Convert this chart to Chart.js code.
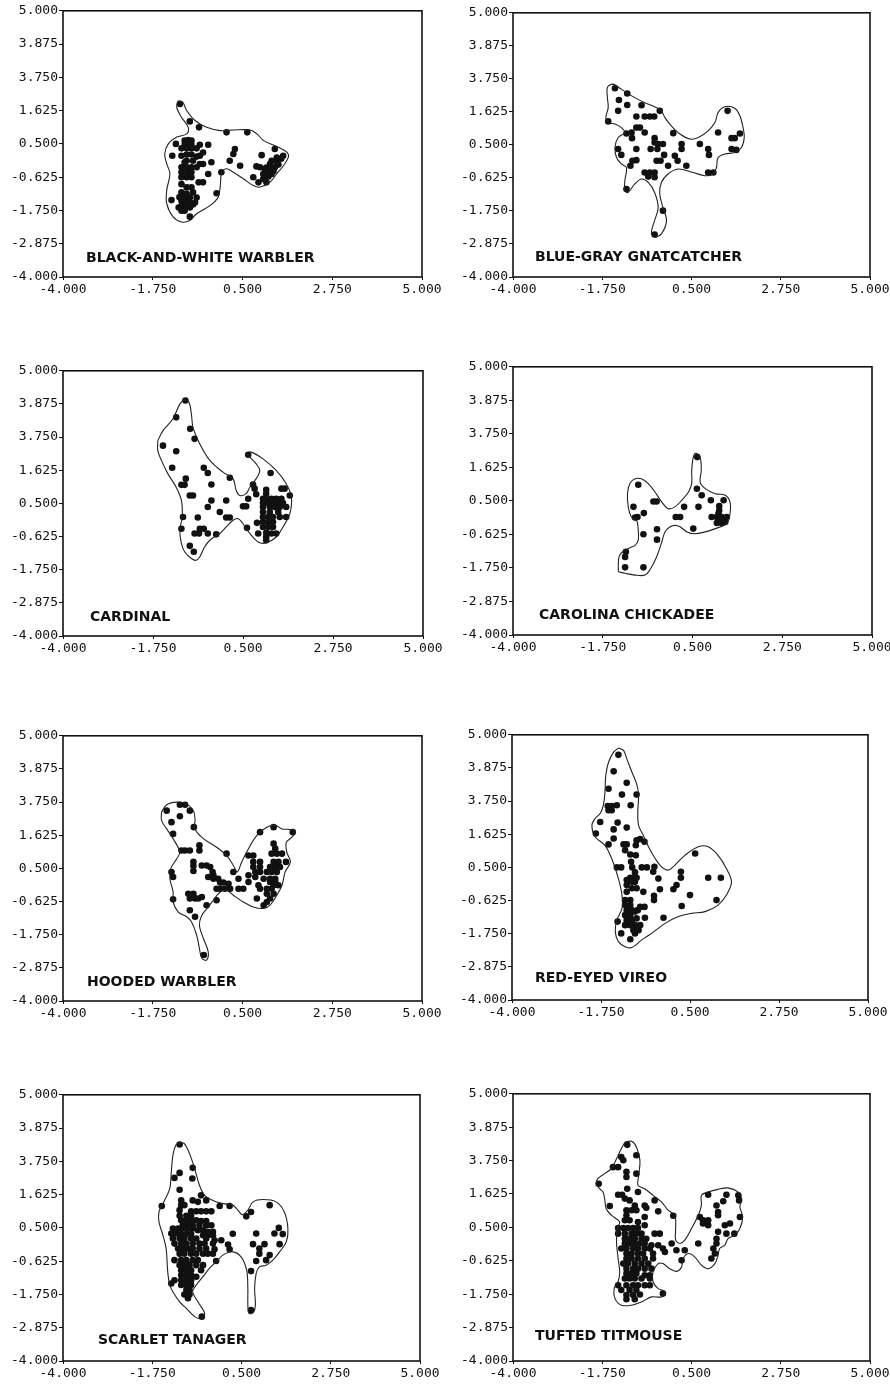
<!DOCTYPE html>
<html>
<head>
<meta charset="utf-8">
<script src="https://cdn.jsdelivr.net/npm/chart.js@4.4.1/dist/chart.umd.min.js"></script>
<style>
html, body { margin: 0; padding: 0; background: #fff; }
body { position: relative; width: 890px; height: 1384px; overflow: hidden; }
canvas { position: absolute; }
</style>
</head>
<body>
<script>
// axis ticks (the 2.75 tick really is printed as "3.750" in the source figure)
const xTickValues = [-4, -1.75, 0.5, 2.75, 5];
const xTickLabels = ['-4.000', '-1.750', '0.500', '2.750', '5.000'];
const yTickValues = [-4, -2.875, -1.75, -0.625, 0.5, 1.625, 2.75, 3.875, 5];
const yTickLabels = ['-4.000', '-2.875', '-1.750', '-0.625', '0.500', '1.625', '3.750', '3.875', '5.000'];

const speciesNames = ['BLACK-AND-WHITE WARBLER', 'BLUE-GRAY GNATCATCHER', 'CARDINAL', 'CAROLINA CHICKADEE',
    'HOODED WARBLER', 'RED-EYED VIREO', 'SCARLET TANAGER', 'TUFTED TITMOUSE'];

// ---- black-and-white warbler
const bawwDots = [[-1.07,1.85],[-0.82,1.26],[-0.59,1.06],[0.10,0.89],[0.62,0.89],[-1.17,0.50],[-0.95,0.61],[-0.86,0.63],[-0.78,0.61],[-0.90,0.47],[-0.78,0.47],[-0.57,0.47],[-0.36,0.47],[-1.26,0.10],[-1.03,0.10],[-0.90,0.14],[-0.78,0.14],[-0.65,0.07],[-0.57,0.10],[-0.49,0.21],[0.31,0.33],[0.27,0.16],[0.18,-0.07],[-0.49,-0.18],[-0.28,-0.12],[-0.90,-0.07],[-0.74,-0.07],[-0.57,-0.18],[-1.03,-0.29],[-0.90,-0.29],[-0.78,-0.29],[-0.65,-0.29],[0.44,-0.24],[-0.03,-0.46],[-1.03,-0.46],[-0.90,-0.46],[-0.78,-0.46],[-0.36,-0.52],[-0.60,-0.80],[-0.49,-0.80],[-0.90,-0.63],[-1.03,-0.86],[-0.90,-0.97],[-0.78,-0.97],[-0.74,-1.14],[-1.03,-1.14],[-0.90,-1.19],[-0.82,-1.31],[-0.65,-1.31],[-1.03,-1.42],[-0.90,-1.42],[-0.82,-1.48],[-0.69,-1.48],[-1.28,-1.40],[-1.03,-1.59],[-0.90,-1.59],[-0.74,-1.55],[-1.03,-1.76],[-0.95,-1.76],[-0.82,-1.96],[-0.15,-1.17],[0.98,0.12],[1.31,0.33],[1.36,0.04],[1.52,0.10],[1.23,-0.07],[1.36,-0.12],[1.19,-0.18],[0.85,-0.26],[0.94,-0.29],[1.06,-0.35],[1.19,-0.35],[1.31,-0.29],[1.02,-0.52],[1.10,-0.52],[1.23,-0.52],[0.77,-0.63],[1.02,-0.69],[1.10,-0.80],[0.90,-0.80],[-0.95,0.47],[-1.03,0.35],[-0.90,0.35],[-0.78,0.35],[-0.65,0.35],[-0.95,-0.12],[-1.03,-0.63],[-0.78,-0.63],[-0.95,-1.30],[-1.08,-1.30],[-0.95,-1.50],[-1.10,-1.65],[-0.82,-1.65],[1.15,-0.60],[1.28,-0.42],[1.40,-0.20],[1.47,0.00],[1.10,-0.30]];
const bawwOutline = [[-1.11,1.96],[-1.00,1.91],[-0.90,1.63],[-0.69,1.29],[-0.40,1.06],[-0.06,0.95],[0.27,0.97],[0.69,0.97],[0.86,0.84],[1.03,0.61],[1.36,0.41],[1.61,0.22],[1.65,0.05],[1.53,-0.23],[1.36,-0.51],[1.19,-0.79],[0.94,-0.96],[0.77,-0.91],[0.52,-0.68],[0.27,-0.46],[0.10,-0.34],[-0.02,-0.46],[-0.06,-0.96],[-0.11,-1.30],[-0.31,-1.58],[-0.65,-1.86],[-0.82,-2.09],[-1.03,-2.14],[-1.24,-1.97],[-1.40,-1.52],[-1.40,-1.07],[-1.32,-0.51],[-1.40,-0.17],[-1.45,0.16],[-1.36,0.50],[-1.15,0.73],[-0.90,0.84],[-0.86,1.06],[-1.03,1.40],[-1.15,1.74]];

// ---- blue-gray gnatcatcher
const bggnDots = [[-1.43,2.43],[-1.12,2.25],[-1.33,2.03],[-1.12,1.86],[-0.76,1.85],[-1.35,1.66],[-0.30,1.66],[-0.89,1.47],[-0.68,1.47],[-0.55,1.47],[-0.44,1.47],[-1.60,1.30],[-0.89,1.09],[-0.80,1.09],[-1.01,0.92],[-1.14,0.89],[-0.68,0.92],[-1.00,0.73],[-0.43,0.73],[0.04,0.90],[-0.43,0.58],[-0.34,0.53],[-0.22,0.53],[0.25,0.53],[0.71,0.53],[-1.35,0.36],[-0.89,0.36],[-0.53,0.36],[-0.36,0.36],[0.25,0.36],[0.92,0.36],[0.94,0.16],[-1.27,0.16],[-0.19,0.16],[0.08,0.13],[-0.99,-0.04],[-0.89,-0.02],[-1.04,-0.21],[-0.38,-0.04],[-0.28,-0.04],[0.15,-0.04],[-0.09,-0.21],[0.37,-0.21],[-0.68,-0.44],[-0.55,-0.44],[-0.43,-0.44],[-0.59,-0.58],[-0.43,-0.60],[0.92,-0.44],[1.05,-0.44],[-1.14,-1.00],[-0.22,-1.74],[-0.43,-2.55],[1.17,0.92],[1.41,1.66],[1.72,0.89],[1.51,0.73],[1.59,0.73],[1.51,0.36],[1.63,0.33]];
const bggnOutline = [[-1.60,2.51],[-1.48,2.57],[-1.35,2.47],[-1.14,2.28],[-0.93,2.11],[-0.68,1.94],[-0.43,1.80],[-0.26,1.66],[-0.17,1.43],[-0.01,1.15],[0.21,0.87],[0.46,0.70],[0.67,0.75],[0.92,0.98],[1.09,1.26],[1.17,1.60],[1.34,1.80],[1.59,1.75],[1.72,1.49],[1.80,1.09],[1.83,0.75],[1.76,0.41],[1.59,0.24],[1.34,0.19],[1.17,0.07],[1.13,-0.27],[1.05,-0.49],[0.84,-0.55],[0.54,-0.44],[0.16,-0.32],[-0.09,-0.49],[-0.26,-0.78],[-0.30,-1.17],[-0.22,-1.63],[-0.13,-2.08],[-0.26,-2.53],[-0.43,-2.64],[-0.51,-2.47],[-0.43,-2.08],[-0.34,-1.63],[-0.43,-1.12],[-0.59,-0.78],[-0.76,-0.66],[-0.93,-0.83],[-1.10,-1.12],[-1.18,-1.06],[-1.18,-0.72],[-1.14,-0.27],[-1.27,-0.15],[-1.39,0.07],[-1.43,0.41],[-1.35,0.75],[-1.18,0.92],[-1.27,1.09],[-1.43,1.21],[-1.60,1.26],[-1.66,1.43],[-1.60,1.77],[-1.62,2.11],[-1.63,2.40]];

// ---- cardinal
const cardDots = [[-0.94,3.99],[-1.17,3.42],[-0.82,3.03],[-0.71,2.69],[-1.50,2.46],[-1.17,2.27],[-1.27,1.71],[-0.48,1.71],[-0.38,1.53],[0.17,1.37],[-0.93,1.34],[-1.04,1.13],[-0.96,1.13],[-0.29,1.14],[0.63,2.15],[1.19,1.53],[0.75,1.14],[0.79,1.00],[0.83,0.81],[1.08,0.96],[1.46,1.00],[1.54,1.00],[1.67,0.77],[-0.83,0.77],[-0.75,0.77],[-0.29,0.60],[0.08,0.60],[0.63,0.66],[-0.38,0.38],[0.50,0.40],[0.58,0.40],[1.08,0.83],[1.00,0.66],[1.08,0.66],[1.21,0.66],[1.33,0.66],[1.46,0.66],[1.00,0.51],[1.13,0.51],[1.25,0.51],[1.38,0.51],[1.50,0.51],[1.00,0.38],[1.17,0.38],[1.29,0.38],[1.42,0.38],[1.58,0.38],[-0.08,0.21],[1.00,0.21],[1.17,0.21],[1.38,0.21],[-1.00,0.04],[-0.63,0.02],[0.08,0.02],[0.17,0.02],[1.00,0.04],[1.13,0.04],[1.25,0.04],[1.42,0.04],[1.58,0.04],[1.00,-0.13],[1.13,-0.13],[1.25,-0.13],[1.00,-0.30],[1.13,-0.30],[1.25,-0.30],[0.85,-0.16],[0.60,-0.33],[-0.58,-0.36],[-0.48,-0.36],[-0.71,-0.52],[-0.60,-0.52],[-0.38,-0.52],[-0.17,-0.55],[-1.04,-0.36],[0.88,-0.52],[1.08,-0.50],[1.21,-0.52],[1.33,-0.52],[1.08,-0.64],[1.08,-0.75],[-0.83,-0.94],[-0.73,-1.14]];
const cardOutline = [[-1.63,2.63],[-1.50,2.97],[-1.25,3.37],[-1.08,3.87],[-0.96,4.01],[-0.85,3.93],[-0.79,3.53],[-0.75,3.08],[-0.58,2.52],[-0.33,1.96],[0.00,1.56],[0.25,1.34],[0.33,0.94],[0.42,0.77],[0.58,0.83],[0.67,1.05],[0.83,1.34],[0.92,1.62],[0.83,1.84],[0.67,2.07],[0.58,2.20],[0.71,2.24],[1.00,2.01],[1.33,1.62],[1.58,1.17],[1.71,0.72],[1.67,0.15],[1.50,-0.30],[1.33,-0.64],[1.08,-0.84],[0.88,-0.81],[0.67,-0.52],[0.50,-0.19],[0.38,-0.02],[0.25,-0.07],[0.08,-0.30],[-0.08,-0.52],[-0.33,-0.75],[-0.46,-0.98],[-0.58,-1.31],[-0.67,-1.43],[-0.79,-1.37],[-0.96,-1.14],[-1.04,-0.86],[-1.08,-0.41],[-1.02,0.04],[-1.04,0.60],[-1.17,1.05],[-1.38,1.51],[-1.54,1.96],[-1.63,2.29]];

// ---- carolina chickadee
const cachDots = [[-0.86,1.04],[-0.98,0.30],[-0.88,-0.04],[-0.94,-0.06],[-0.72,0.09],[-0.48,0.48],[-0.40,0.48],[0.29,0.30],[0.65,0.30],[0.61,0.91],[0.73,0.69],[0.96,0.52],[1.28,0.52],[1.17,0.33],[1.17,0.18],[-0.73,-0.62],[-0.39,-0.45],[-0.39,-0.80],[-1.17,-1.21],[-1.19,-1.38],[-1.19,-1.73],[-0.73,-1.73],[0.08,-0.04],[0.19,-0.04],[0.52,-0.43],[0.62,1.97],[0.98,-0.04],[1.11,-0.04],[1.23,-0.04],[1.19,-0.15],[1.32,-0.21],[1.11,-0.24],[1.23,-0.24],[1.36,-0.04],[1.15,0.07]];
const cachOutline = [[-1.36,-1.88],[-1.35,-1.43],[-1.28,-1.24],[-1.11,-1.10],[-0.94,-0.99],[-0.86,-0.82],[-0.86,-0.48],[-0.90,-0.15],[-1.03,-0.04],[-1.11,0.30],[-1.13,0.74],[-1.07,1.08],[-0.94,1.24],[-0.78,1.24],[-0.61,1.08],[-0.44,0.80],[-0.27,0.46],[-0.11,0.24],[0.06,0.30],[0.23,0.52],[0.40,0.80],[0.48,1.08],[0.48,1.52],[0.52,1.97],[0.58,2.10],[0.69,1.97],[0.72,1.52],[0.69,1.13],[0.82,0.91],[1.07,0.74],[1.32,0.69],[1.44,0.46],[1.44,0.07],[1.36,-0.26],[1.07,-0.43],[0.82,-0.54],[0.56,-0.60],[0.36,-0.54],[0.19,-0.37],[0.06,-0.32],[-0.06,-0.37],[-0.19,-0.54],[-0.27,-0.88],[-0.40,-1.38],[-0.57,-1.82],[-0.69,-1.99],[-0.94,-1.99],[-1.19,-1.93]];

// ---- hooded warbler
const howaDots = [[-1.07,2.66],[-0.94,2.66],[-1.40,2.46],[-1.07,2.27],[-0.82,2.46],[-1.28,2.07],[-1.24,1.67],[-0.72,1.90],[-0.58,1.28],[-1.03,1.11],[-0.94,1.11],[-0.82,1.11],[-0.58,1.11],[0.10,1.00],[-1.28,0.38],[-1.24,0.21],[-0.73,0.72],[-0.73,0.58],[-0.73,0.41],[-0.52,0.60],[-0.40,0.60],[-0.31,0.55],[-0.25,0.38],[-0.23,0.27],[-0.36,0.21],[-0.23,0.15],[-0.11,0.15],[-0.06,0.02],[0.02,0.02],[0.15,-0.02],[0.27,0.38],[0.40,0.15],[-0.15,-0.19],[-0.06,-0.19],[0.06,-0.19],[0.19,-0.19],[0.40,-0.19],[0.52,-0.19],[-1.24,-0.55],[-0.86,-0.36],[-0.73,-0.36],[-0.82,-0.52],[-0.69,-0.52],[-0.61,-0.52],[-0.52,-0.47],[-0.15,-0.58],[-0.82,-0.92],[-0.69,-1.14],[-0.40,-0.75],[-0.47,-2.44],[0.65,0.94],[0.77,0.94],[0.77,0.72],[0.94,0.72],[0.77,0.55],[0.94,0.55],[0.82,0.38],[0.94,0.38],[0.82,0.21],[0.90,-0.07],[0.94,-0.19],[1.11,-0.19],[1.23,-0.19],[1.03,0.15],[1.19,0.15],[1.32,0.15],[1.11,0.38],[1.23,0.38],[1.36,0.38],[1.19,0.55],[1.32,0.55],[1.44,0.55],[1.28,0.72],[1.40,0.72],[1.59,0.72],[1.23,1.00],[1.36,1.00],[1.49,1.00],[1.28,1.34],[1.32,1.17],[0.94,1.73],[1.28,1.90],[1.76,1.73],[0.65,0.27],[1.19,0.04],[1.32,0.04],[1.40,-0.07],[1.28,-0.07],[1.11,-0.36],[1.28,-0.36],[1.19,-0.52],[1.11,-0.64],[1.03,-0.75],[0.86,-0.52],[0.65,0.04]];
const howaOutline = [[-1.53,2.41],[-1.40,2.66],[-1.15,2.75],[-0.90,2.69],[-0.73,2.46],[-0.69,2.18],[-0.69,1.84],[-0.48,1.51],[-0.15,1.22],[0.10,0.94],[0.27,0.60],[0.37,0.38],[0.48,0.72],[0.65,1.17],[0.86,1.62],[1.11,1.90],[1.32,1.96],[1.49,1.84],[1.70,1.82],[1.82,1.73],[1.74,1.56],[1.60,1.39],[1.61,1.05],[1.70,0.72],[1.57,0.38],[1.49,-0.07],[1.36,-0.41],[1.19,-0.75],[1.03,-0.86],[0.77,-0.81],[0.52,-0.64],[0.27,-0.41],[0.10,-0.24],[-0.06,-0.30],[-0.23,-0.58],[-0.36,-0.81],[-0.52,-1.09],[-0.58,-1.43],[-0.48,-1.88],[-0.36,-2.33],[-0.40,-2.61],[-0.52,-2.55],[-0.58,-2.22],[-0.65,-1.76],[-0.78,-1.31],[-0.90,-1.14],[-1.11,-0.98],[-1.24,-0.64],[-1.24,-0.30],[-1.32,0.15],[-1.30,0.49],[-1.15,0.83],[-1.07,1.05],[-1.24,1.51],[-1.40,1.84],[-1.53,2.13]];

// ---- red-eyed vireo
const revDots = [[-1.31,4.32],[-1.43,3.76],[-1.10,3.37],[-1.56,3.17],[-1.22,2.97],[-0.85,2.97],[-1.00,2.61],[-1.58,2.58],[-1.48,2.58],[-1.35,2.61],[-1.56,2.44],[-1.48,2.44],[-1.77,2.04],[-1.33,2.02],[-1.10,1.85],[-1.88,1.65],[-1.43,1.79],[-1.43,1.48],[-1.56,1.28],[-1.18,1.28],[-1.10,1.28],[-1.14,1.08],[-0.85,1.42],[-0.76,1.46],[-0.65,1.37],[-0.87,1.25],[-1.01,0.94],[-0.87,0.91],[-1.35,0.50],[-1.24,0.50],[-0.99,0.69],[-0.96,0.50],[-0.72,0.50],[-0.59,0.50],[-0.40,0.52],[-0.43,0.35],[-0.89,0.33],[-1.01,0.15],[-0.93,0.15],[-0.85,0.15],[-1.10,0.07],[-0.97,0.01],[-0.89,0.01],[-0.30,0.12],[0.27,0.35],[0.27,0.15],[0.96,0.15],[1.28,0.15],[0.63,0.97],[-1.10,-0.10],[-0.85,-0.21],[-0.97,-0.21],[-1.10,-0.33],[-0.68,-0.33],[-0.26,-0.24],[0.08,-0.24],[0.16,-0.10],[-0.41,-0.46],[-0.41,-0.61],[0.50,-0.44],[1.17,-0.61],[0.29,-0.81],[-1.14,-0.61],[-1.01,-0.61],[-1.01,-0.78],[-1.14,-0.78],[-1.10,-0.95],[-0.97,-0.95],[-1.14,-1.12],[-1.01,-1.12],[-0.89,-1.00],[-0.76,-0.84],[-0.65,-0.84],[-0.82,-0.95],[-1.10,-1.29],[-0.97,-1.29],[-0.85,-1.23],[-0.64,-1.21],[-1.14,-1.46],[-1.01,-1.46],[-0.89,-1.46],[-0.76,-1.46],[-0.93,-1.63],[-0.80,-1.63],[-0.89,-1.74],[-1.01,-1.94],[-1.24,-1.74],[-1.33,-1.34],[-0.17,-1.21]];
const revOutline = [[-1.31,4.55],[-1.18,4.47],[-1.10,4.19],[-0.97,3.74],[-0.85,3.34],[-0.80,2.95],[-0.82,2.38],[-0.80,1.93],[-0.68,1.59],[-0.55,1.20],[-0.38,0.80],[-0.22,0.52],[-0.05,0.41],[0.12,0.58],[0.37,0.91],[0.71,1.20],[0.96,1.20],[1.21,0.91],[1.42,0.46],[1.55,0.01],[1.42,-0.44],[1.21,-0.78],[0.88,-1.00],[0.54,-1.06],[0.21,-1.17],[-0.13,-1.40],[-0.47,-1.74],[-0.72,-1.96],[-0.97,-2.22],[-1.14,-2.19],[-1.31,-2.02],[-1.39,-1.68],[-1.35,-1.29],[-1.22,-0.89],[-1.22,-0.44],[-1.31,0.12],[-1.48,0.80],[-1.65,1.25],[-1.90,1.54],[-1.98,1.93],[-1.90,2.16],[-1.77,2.33],[-1.69,2.61],[-1.65,3.06],[-1.63,3.62],[-1.56,4.07],[-1.43,4.41]];

// ---- scarlet tanager
const sctaDots = [[-1.06,3.32],[-0.73,2.53],[-1.06,2.36],[-1.19,2.19],[-0.74,2.17],[-1.06,1.79],[-0.52,1.60],[-0.39,1.43],[-1.51,1.24],[-1.02,1.43],[-1.02,1.27],[-0.94,1.27],[-0.73,1.43],[-0.60,1.38],[-0.05,1.24],[0.20,1.24],[-1.06,1.10],[-0.77,1.06],[-0.64,1.06],[-0.52,1.06],[-0.39,1.06],[-0.26,1.06],[-1.06,0.91],[-0.89,0.91],[-0.77,0.91],[0.74,1.04],[0.62,0.89],[1.21,1.27],[-1.02,0.76],[-0.89,0.76],[-0.77,0.76],[-0.64,0.76],[-0.52,0.73],[-0.39,0.73],[-0.98,0.59],[-0.85,0.59],[-0.73,0.59],[-0.56,0.59],[-0.39,0.59],[-0.26,0.59],[-1.23,0.48],[-1.10,0.48],[-0.98,0.48],[-0.85,0.48],[-0.73,0.48],[-0.60,0.42],[-0.47,0.42],[-0.35,0.37],[-0.22,0.37],[-1.27,0.31],[-1.15,0.31],[-1.02,0.29],[-0.89,0.29],[-0.77,0.29],[-0.47,0.25],[-0.35,0.25],[-0.22,0.25],[0.28,0.30],[0.87,0.31],[1.33,0.31],[1.44,0.50],[1.54,0.29],[-1.23,0.14],[-1.06,0.14],[-0.94,0.14],[-0.77,0.14],[-0.64,0.14],[-0.39,0.14],[-0.18,0.08],[-0.01,0.08],[-1.19,-0.03],[-1.02,-0.03],[-0.89,-0.03],[-0.73,-0.03],[-0.56,-0.03],[-0.43,-0.03],[-0.22,-0.03],[0.16,-0.06],[0.79,-0.05],[1.08,-0.05],[1.46,-0.05],[-1.10,-0.20],[-0.98,-0.20],[-0.85,-0.20],[-0.73,-0.20],[-0.56,-0.20],[-0.39,-0.20],[-0.18,-0.22],[0.20,-0.22],[0.95,-0.20],[-1.06,-0.37],[-0.94,-0.37],[-0.77,-0.37],[-0.64,-0.37],[-0.47,-0.37],[-0.35,-0.37],[-0.22,-0.37],[0.95,-0.37],[1.21,-0.42],[-1.19,-0.59],[-1.02,-0.59],[-0.89,-0.59],[-0.73,-0.59],[-0.60,-0.59],[-0.14,-0.62],[0.87,-0.62],[1.12,-0.59],[-1.06,-0.76],[-0.94,-0.76],[-0.81,-0.76],[-0.64,-0.76],[-0.47,-0.76],[-1.02,-0.93],[-0.89,-0.93],[-0.77,-0.93],[-0.52,-0.93],[0.74,-0.96],[-1.02,-1.10],[-0.89,-1.10],[-0.77,-1.10],[-0.64,-1.15],[-1.19,-1.27],[-1.02,-1.27],[-0.89,-1.27],[-0.77,-1.27],[-1.27,-1.38],[-1.02,-1.43],[-0.89,-1.43],[-0.77,-1.43],[-0.89,-1.60],[-0.81,-1.60],[-0.94,-1.75],[-0.81,-1.75],[-0.85,-1.88],[-0.50,-2.50],[0.74,-2.28]];
const sctaOutline = [[-1.06,3.40],[-0.94,3.35],[-0.81,3.01],[-0.68,2.50],[-0.56,1.94],[-0.43,1.60],[-0.22,1.43],[0.03,1.32],[0.28,1.27],[0.41,1.10],[0.52,0.95],[0.66,1.10],[0.79,1.38],[1.04,1.46],[1.37,1.38],[1.58,1.04],[1.67,0.48],[1.63,0.03],[1.46,-0.31],[1.29,-0.59],[1.12,-0.76],[0.95,-0.82],[0.87,-1.04],[0.83,-1.55],[0.85,-2.11],[0.80,-2.36],[0.69,-2.39],[0.66,-2.11],[0.66,-1.55],[0.63,-0.93],[0.49,-0.48],[0.28,-0.31],[0.03,-0.42],[-0.14,-0.65],[-0.31,-0.87],[-0.47,-1.15],[-0.64,-1.43],[-0.73,-1.66],[-0.60,-2.00],[-0.43,-2.39],[-0.52,-2.56],[-0.68,-2.50],[-0.89,-2.22],[-1.06,-2.00],[-1.23,-1.66],[-1.31,-1.43],[-1.36,-0.98],[-1.40,-0.20],[-1.48,0.25],[-1.58,0.70],[-1.58,1.04],[-1.48,1.32],[-1.31,1.83],[-1.27,2.39],[-1.23,2.95],[-1.16,3.29]];

// ---- tufted titmouse
const tutiDots = [[-1.12,3.28],[-1.27,2.87],[-1.22,2.76],[-1.48,2.53],[-1.35,2.53],[-1.14,2.37],[-1.14,2.20],[-0.89,2.93],[-0.89,2.31],[-1.84,1.97],[-1.12,1.80],[-1.35,1.60],[-1.25,1.60],[-1.18,1.47],[-0.85,1.69],[-1.56,1.22],[-1.06,1.41],[-0.93,1.24],[-0.68,1.24],[-0.43,1.41],[-1.14,1.08],[-1.01,1.08],[-0.89,1.08],[-0.64,1.16],[-1.14,0.91],[-0.34,1.04],[0.04,0.89],[-0.68,0.85],[-1.18,0.74],[-1.06,0.74],[-0.85,0.68],[-0.68,0.57],[-1.35,0.48],[-1.22,0.48],[-1.10,0.48],[-0.97,0.48],[-0.85,0.48],[-1.35,0.29],[-1.18,0.29],[-1.01,0.29],[-0.89,0.29],[-0.76,0.29],[-0.43,0.29],[-0.30,0.29],[-1.18,0.12],[-1.06,0.12],[-0.93,0.12],[-0.76,0.12],[-0.64,0.12],[-1.18,-0.04],[-1.06,-0.04],[-0.93,-0.04],[-0.80,-0.04],[-0.68,-0.04],[-0.51,-0.10],[-0.34,-0.10],[0.00,-0.04],[-1.27,-0.21],[-1.14,-0.21],[-0.97,-0.21],[-0.85,-0.21],[-0.68,-0.21],[-0.55,-0.21],[-0.22,-0.21],[-1.14,-0.38],[-1.01,-0.38],[-0.85,-0.38],[-0.72,-0.38],[-0.47,-0.38],[-0.17,-0.33],[0.12,-0.27],[0.33,-0.27],[-1.14,-0.55],[-1.01,-0.55],[-0.85,-0.55],[-0.68,-0.55],[-0.47,-0.55],[0.25,-0.61],[-1.22,-0.72],[-1.10,-0.72],[-0.93,-0.72],[-0.76,-0.72],[-0.59,-0.72],[-1.14,-0.89],[-0.97,-0.89],[-0.85,-0.89],[-0.68,-0.89],[-0.51,-0.89],[-1.14,-1.05],[-1.01,-1.05],[-0.89,-1.05],[-0.68,-1.11],[-0.55,-1.11],[-1.18,-1.22],[-1.06,-1.22],[-0.93,-1.22],[-0.76,-1.22],[-0.55,-1.22],[-1.35,-1.45],[-1.14,-1.45],[-0.97,-1.45],[-0.85,-1.45],[-0.68,-1.45],[-0.55,-1.45],[-1.27,-1.61],[-1.06,-1.61],[-0.89,-1.61],[-1.14,-1.78],[-0.97,-1.78],[-0.80,-1.76],[-1.14,-1.92],[-0.93,-1.92],[-0.22,-1.73],[0.71,0.85],[0.79,0.74],[0.79,0.63],[0.92,0.74],[0.92,0.57],[0.67,-0.04],[0.92,1.60],[1.13,1.24],[1.17,1.02],[1.17,0.91],[1.30,1.38],[1.38,1.60],[1.68,1.58],[1.70,1.41],[1.72,0.85],[1.47,0.63],[1.17,0.35],[1.38,0.29],[1.58,0.29],[1.13,0.12],[1.13,-0.04],[1.05,-0.21],[1.09,-0.38],[1.00,-0.55],[1.34,0.57]];
const tutiOutline = [[-1.18,3.37],[-1.01,3.40],[-0.89,3.21],[-0.80,2.76],[-0.83,2.25],[-0.85,1.92],[-0.68,1.80],[-0.47,1.58],[-0.26,1.36],[-0.09,1.08],[0.08,0.91],[0.10,0.46],[0.10,0.07],[0.21,-0.04],[0.33,0.07],[0.50,0.46],[0.67,0.91],[0.75,1.24],[0.75,1.58],[0.92,1.69],[1.17,1.78],[1.42,1.83],[1.68,1.69],[1.76,1.47],[1.72,1.19],[1.79,0.85],[1.72,0.46],[1.59,0.24],[1.42,0.12],[1.34,-0.10],[1.21,-0.21],[1.17,-0.44],[1.09,-0.72],[0.92,-0.89],[0.75,-0.77],[0.58,-0.49],[0.42,-0.38],[0.29,-0.55],[0.25,-0.83],[0.12,-0.98],[-0.05,-0.89],[-0.22,-0.72],[-0.34,-0.72],[-0.47,-1.00],[-0.47,-1.33],[-0.34,-1.56],[-0.17,-1.67],[-0.26,-1.84],[-0.51,-1.84],[-0.76,-2.01],[-1.01,-2.12],[-1.27,-2.12],[-1.43,-1.89],[-1.45,-1.56],[-1.35,-1.33],[-1.31,-1.00],[-1.35,-0.55],[-1.39,0.01],[-1.37,0.46],[-1.31,0.68],[-1.52,0.91],[-1.65,1.13],[-1.69,1.47],[-1.73,1.69],[-1.81,1.80],[-1.90,1.97],[-1.86,2.14],[-1.69,2.31],[-1.52,2.48],[-1.39,2.81],[-1.27,3.15]];

const speciesDots = [bawwDots, bggnDots, cardDots, cachDots, howaDots, revDots, sctaDots, tutiDots];
const speciesOutlines = [bawwOutline, bggnOutline, cardOutline, cachOutline, howaOutline, revOutline, sctaOutline, tutiOutline];

// page layout: plot box [left, right, top, bottom] in page pixels, label offset from bottom-left
const panels = [
    { box: [63, 422, 10, 277], label: [23, 19] },
    { box: [513, 870, 12, 277], label: [22, 20] },
    { box: [63, 423, 370, 636], label: [27, 19] },
    { box: [513, 872, 366, 635], label: [26, 20] },
    { box: [63, 422, 735, 1001], label: [24, 19] },
    { box: [512, 868, 734, 1000], label: [23, 22] },
    { box: [63, 420, 1094, 1361], label: [35, 21] },
    { box: [513, 870, 1093, 1361], label: [22, 25] }
];

const Y_AXIS_W = 63, PAD_TOP = 8, PAD_RIGHT = 22, X_AXIS_H = 30;
const tickFont = { family: '"DejaVu Sans Mono", monospace', size: 13 };

function closeLoop(pts) { return pts.concat([pts[0]]); }
function toXY(pts) { return pts.map(p => ({ x: p[0], y: p[1] })); }

// frame round the plot and the species name inside it
const framePlugin = {
    id: 'frame',
    afterDatasetsDraw(chart, args, opts) {
        const a = chart.chartArea, ctx = chart.ctx;
        ctx.save();
        ctx.strokeStyle = '#111';
        ctx.lineWidth = 1.6;
        ctx.strokeRect(a.left, a.top, a.right - a.left, a.bottom - a.top);
        ctx.fillStyle = '#111';
        ctx.font = 'bold 14px "DejaVu Sans", sans-serif';
        ctx.textBaseline = 'middle';
        ctx.fillText(opts.text, a.left + opts.dx, a.bottom - opts.dy);
        ctx.restore();
    }
};

panels.forEach((p, i) => {
    const [L, R, T, B] = p.box;
    const canvas = document.createElement('canvas');
    canvas.width = (R - L) + Y_AXIS_W + PAD_RIGHT;
    canvas.height = (B - T) + PAD_TOP + X_AXIS_H;
    canvas.style.left = (L - Y_AXIS_W) + 'px';
    canvas.style.top = (T - PAD_TOP) + 'px';
    document.body.appendChild(canvas);

    new Chart(canvas, {
        type: 'scatter',
        data: {
            datasets: [{
                data: toXY(closeLoop(speciesOutlines[i])),
                showLine: true,
                tension: 0.35,
                borderColor: '#222',
                borderWidth: 1.1,
                pointRadius: 0,
                fill: false
            }, {
                data: toXY(speciesDots[i]),
                showLine: false,
                pointRadius: 3.3,
                pointBackgroundColor: '#111',
                pointBorderWidth: 0
            }]
        },
        options: {
            responsive: false,
            animation: false,
            devicePixelRatio: 1,
            layout: { padding: { top: PAD_TOP, right: PAD_RIGHT, left: 0, bottom: 0 } },
            plugins: {
                legend: { display: false },
                tooltip: { enabled: false },
                frame: { text: speciesNames[i], dx: p.label[0], dy: p.label[1] }
            },
            scales: {
                x: {
                    type: 'linear', min: -4, max: 5,
                    afterBuildTicks: s => { s.ticks = xTickValues.map(v => ({ value: v })); },
                    afterFit: s => { s.height = X_AXIS_H; },
                    ticks: { autoSkip: false, maxRotation: 0, padding: 2, color: '#111', font: tickFont,
                        callback: (v, idx) => xTickLabels[idx] },
                    grid: { drawOnChartArea: false, tickLength: 3, color: '#111' },
                    border: { display: false }
                },
                y: {
                    type: 'linear', min: -4, max: 5,
                    afterBuildTicks: s => { s.ticks = yTickValues.map(v => ({ value: v })); },
                    afterFit: s => { s.width = Y_AXIS_W; },
                    ticks: { autoSkip: false, padding: 1, color: '#111', font: tickFont,
                        callback: (v, idx) => yTickLabels[idx] },
                    grid: { drawOnChartArea: false, tickLength: 4, color: '#111' },
                    border: { display: false }
                }
            }
        },
        plugins: [framePlugin]
    });
});
</script>
</body>
</html>
